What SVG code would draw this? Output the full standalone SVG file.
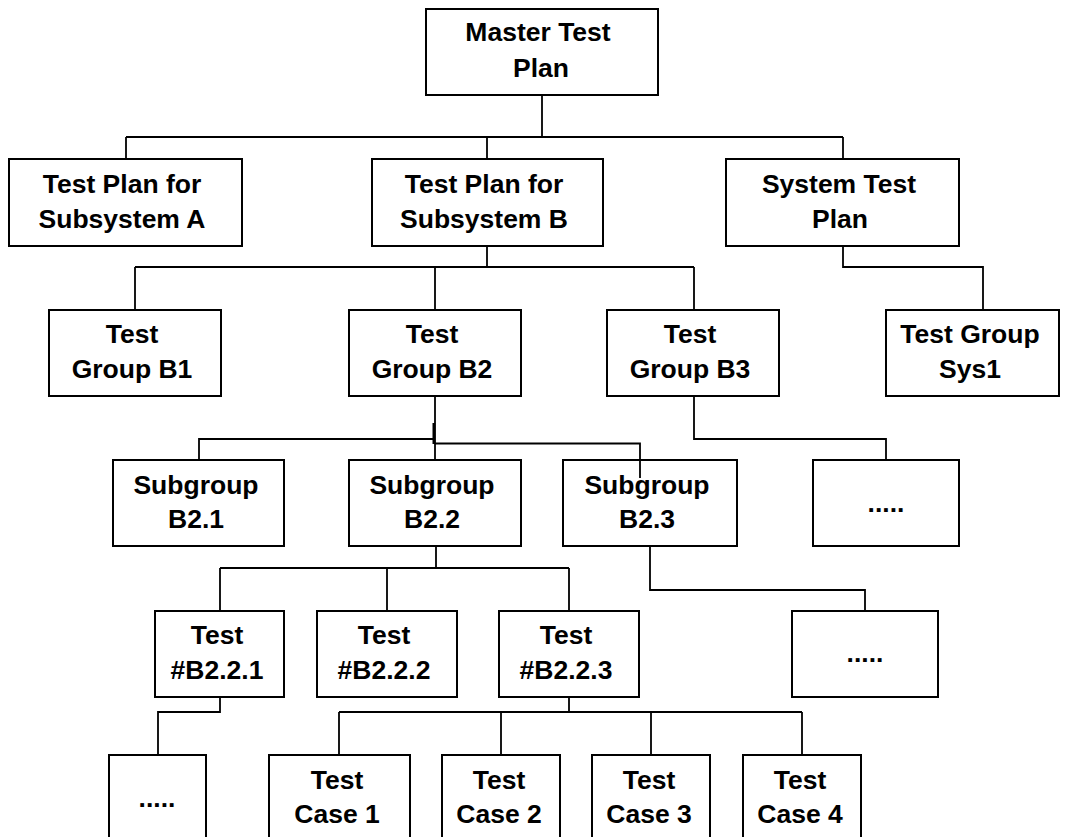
<svg xmlns="http://www.w3.org/2000/svg" width="1073" height="837" viewBox="0 0 1073 837">
<style>
.box{fill:#fff;stroke:#000;stroke-width:2}
.t{font-family:"Liberation Sans",Arial,sans-serif;font-weight:bold;font-size:26.5px;fill:#000;text-anchor:middle}
.c{fill:none;stroke:#000;stroke-width:1.8}
</style>
<rect width="1073" height="837" fill="#fff"/>
<g id="master"><rect class="box" x="426" y="9" width="232" height="86"/><text class="t" x="538" y="41">Master Test</text><text class="t" x="541" y="77">Plan</text></g>
<g id="planA"><rect class="box" x="9" y="159" width="233" height="87"/><text class="t" x="122" y="193">Test Plan for</text><text class="t" x="122" y="228">Subsystem A</text></g>
<g id="planB"><rect class="box" x="372" y="159" width="231" height="87"/><text class="t" x="484" y="193">Test Plan for</text><text class="t" x="484" y="228">Subsystem B</text></g>
<g id="sysPlan"><rect class="box" x="726" y="159" width="233" height="87"/><text class="t" x="839" y="193">System Test</text><text class="t" x="840" y="228">Plan</text></g>
<g id="groupB1"><rect class="box" x="49" y="310" width="172" height="86"/><text class="t" x="132" y="343">Test</text><text class="t" x="132" y="378">Group B1</text></g>
<g id="groupB2"><rect class="box" x="349" y="310" width="172" height="86"/><text class="t" x="432" y="343">Test</text><text class="t" x="432" y="378">Group B2</text></g>
<g id="groupB3"><rect class="box" x="607" y="310" width="172" height="86"/><text class="t" x="690" y="343">Test</text><text class="t" x="690" y="378">Group B3</text></g>
<g id="groupSys1"><rect class="box" x="886" y="310" width="173" height="86"/><text class="t" x="970" y="343">Test Group</text><text class="t" x="970" y="378">Sys1</text></g>
<g id="subB21"><rect class="box" x="113" y="460" width="171" height="86"/><text class="t" x="196" y="494">Subgroup</text><text class="t" x="196" y="528">B2.1</text></g>
<g id="subB22"><rect class="box" x="349" y="460" width="172" height="86"/><text class="t" x="432" y="494">Subgroup</text><text class="t" x="432" y="528">B2.2</text></g>
<g id="subB23"><rect class="box" x="563" y="460" width="174" height="86"/><text class="t" x="647" y="494">Subgroup</text><text class="t" x="647" y="528">B2.3</text></g>
<g id="moreB3"><rect class="box" x="813" y="460" width="146" height="86"/><text class="t" x="886" y="512">.....</text></g>
<g id="testB221"><rect class="box" x="155" y="611" width="129" height="86"/><text class="t" x="217" y="644">Test</text><text class="t" x="217" y="679">#B2.2.1</text></g>
<g id="testB222"><rect class="box" x="317" y="611" width="140" height="86"/><text class="t" x="384" y="644">Test</text><text class="t" x="384" y="679">#B2.2.2</text></g>
<g id="testB223"><rect class="box" x="499" y="611" width="140" height="86"/><text class="t" x="566" y="644">Test</text><text class="t" x="566" y="679">#B2.2.3</text></g>
<g id="moreB23"><rect class="box" x="792" y="611" width="146" height="86"/><text class="t" x="865" y="662">.....</text></g>
<g id="moreB221"><rect class="box" x="109" y="755" width="97" height="100"/><text class="t" x="157" y="807">.....</text></g>
<g id="case1"><rect class="box" x="269" y="755" width="141" height="100"/><text class="t" x="337" y="789">Test</text><text class="t" x="337" y="823">Case 1</text></g>
<g id="case2"><rect class="box" x="442" y="755" width="118" height="100"/><text class="t" x="499" y="789">Test</text><text class="t" x="499" y="823">Case 2</text></g>
<g id="case3"><rect class="box" x="592" y="755" width="118" height="100"/><text class="t" x="649" y="789">Test</text><text class="t" x="649" y="823">Case 3</text></g>
<g id="case4"><rect class="box" x="743" y="755" width="118" height="100"/><text class="t" x="800" y="789">Test</text><text class="t" x="800" y="823">Case 4</text></g>
<g id="connectors">
<path class="c" d="M542,95 V137 M126,137 H843 M126,137 V159 M487,137 V159 M843,137 V159"/>
<path class="c" d="M487,246 V267 M135,267 H694 M135,267 V310 M435,267 V310 M694,267 V310"/>
<path class="c" d="M843,246 V267 H983 V310"/>
<path class="c" d="M435,396 V460 M199,460 V439 H434 M435,443.5 H640 V478"/>
<path class="c" style="stroke-width:2.6" d="M433.8,423 V444"/>
<path class="c" d="M694,396 V439 H886 V460"/>
<path class="c" d="M436,546 V568 M220,568 H569 M220,568 V611 M387,568 V611 M569,568 V611"/>
<path class="c" d="M650,546 V590 H865 V611"/>
<path class="c" d="M220,697 V712 H158 V755"/>
<path class="c" d="M569,697 V712 M339,712 H802 M339,712 V755 M501,712 V755 M651,712 V755 M802,712 V755"/>
</g>
</svg>
